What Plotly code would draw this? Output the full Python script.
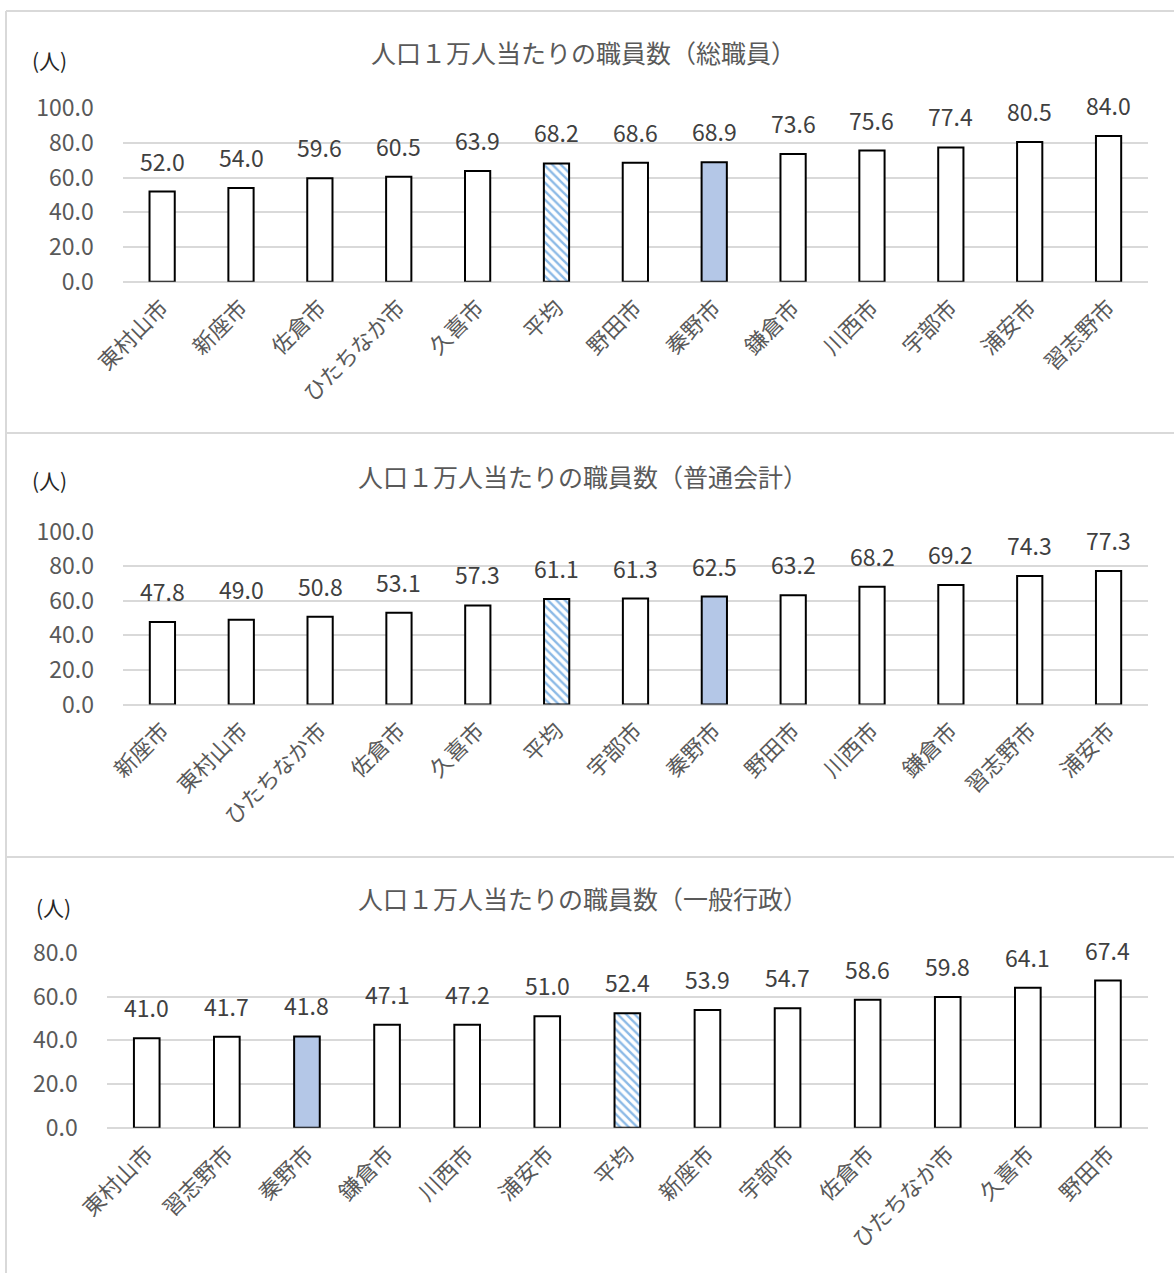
import plotly.graph_objects as go

# ---------------- data ----------------
cats1 = ["東村山市", "新座市", "佐倉市", "ひたちなか市", "久喜市", "平均", "野田市",
         "秦野市", "鎌倉市", "川西市", "宇部市", "浦安市", "習志野市"]
vals1 = [52.0, 54.0, 59.6, 60.5, 63.9, 68.2, 68.6, 68.9, 73.6, 75.6, 77.4, 80.5, 84.0]

cats2 = ["新座市", "東村山市", "ひたちなか市", "佐倉市", "久喜市", "平均", "宇部市",
         "秦野市", "野田市", "川西市", "鎌倉市", "習志野市", "浦安市"]
vals2 = [47.8, 49.0, 50.8, 53.1, 57.3, 61.1, 61.3, 62.5, 63.2, 68.2, 69.2, 74.3, 77.3]

cats3 = ["東村山市", "習志野市", "秦野市", "鎌倉市", "川西市", "浦安市", "平均",
         "新座市", "宇部市", "佐倉市", "ひたちなか市", "久喜市", "野田市"]
vals3 = [41.0, 41.7, 41.8, 47.1, 47.2, 51.0, 52.4, 53.9, 54.7, 58.6, 59.8, 64.1, 67.4]

titles = ["人口１万人当たりの職員数（総職員）",
          "人口１万人当たりの職員数（普通会計）",
          "人口１万人当たりの職員数（一般行政）"]
unit_label = "(人)"
tickvals1 = [0, 20, 40, 60, 80, 100]
tickvals3 = [0, 20, 40, 60, 80]

# ---------------- style ----------------
W, H = 1174, 1273
FONT = "Noto Sans CJK JP"
GRID = "#D9D9D9"
TXT = "#595959"
HIGHLIGHT = "#B4C7E7"
AVG_NAME = "平均"
HOME_NAME = "秦野市"


def px(x):
    return x / W


def py(y):
    return 1 - y / H


panels = [
    dict(cats=cats1, vals=vals1, x0=122.7, x1=1148, ytop=108.3, ybot=281.7, rng=[0, 100],
         ticks=tickvals1, title_y=52, unit_y=60, unit_x=49),
    dict(cats=cats2, vals=vals2, x0=123, x1=1148, ytop=531.7, ybot=704.5, rng=[0, 100],
         ticks=tickvals1, title_y=476, unit_y=480, unit_x=49),
    dict(cats=cats3, vals=vals3, x0=106.7, x1=1148, ytop=953, ybot=1127.7, rng=[0, 80],
         ticks=tickvals3, title_y=898, unit_y=907, unit_x=53),
]

fig = go.Figure()
annotations = []

for i, p in enumerate(panels):
    n = "" if i == 0 else str(i + 1)
    xa, ya = "x" + n, "y" + n
    # ordinary bars (average excluded, drawn separately with a hatch pattern)
    other_vals = [None if c == AVG_NAME else v for c, v in zip(p["cats"], p["vals"])]
    colors = [HIGHLIGHT if c == HOME_NAME else "white" for c in p["cats"]]
    fig.add_trace(go.Bar(
        x=p["cats"], y=other_vals, xaxis=xa, yaxis=ya, width=0.32,
        marker=dict(color=colors, line=dict(color="black", width=2)),
        showlegend=False, hoverinfo="x+y",
    ))
    avg_x = [c for c in p["cats"] if c == AVG_NAME]
    avg_y = [v for c, v in zip(p["cats"], p["vals"]) if c == AVG_NAME]
    fig.add_trace(go.Bar(
        x=avg_x, y=avg_y, xaxis=xa, yaxis=ya, width=0.32,
        marker=dict(color="white", line=dict(color="black", width=2),
                    pattern=dict(shape="\\", fgcolor="#1874CD", bgcolor="white",
                                 fillmode="overlay", size=6, solidity=0.4)),
        showlegend=False, hoverinfo="x+y",
    ))
    fig.layout["xaxis" + n] = dict(
        domain=[px(p["x0"]), px(p["x1"])], anchor=ya, tickangle=-45,
        categoryorder="array", categoryarray=p["cats"],
        tickfont=dict(family=FONT, size=22, color=TXT), showgrid=False,
        showline=False, ticks="", ticklabelstandoff=8, fixedrange=True,
        automargin=False,
    )
    fig.layout["yaxis" + n] = dict(
        domain=[py(p["ybot"]), py(p["ytop"])], anchor=xa, range=p["rng"],
        tickvals=p["ticks"], ticktext=[f"{t:.1f}" for t in p["ticks"]],
        tickfont=dict(family=FONT, size=23, color=TXT), showgrid=True,
        gridcolor=GRID, gridwidth=1.5, zeroline=True, zerolinecolor=GRID,
        zerolinewidth=1.5, showline=False, ticks="", ticklabelstandoff=28,
        fixedrange=True, automargin=False,
    )
    for c, v in zip(p["cats"], p["vals"]):
        annotations.append(dict(x=c, y=v, xref=xa, yref=ya, text=f"{v:.1f}",
                                showarrow=False, yshift=31, yanchor="middle",
                                font=dict(family=FONT, size=23, color="#404040")))
    annotations.append(dict(x=px(583), y=py(p["title_y"]), xref="paper", yref="paper",
                            text=titles[i], showarrow=False, xanchor="center",
                            yanchor="middle",
                            font=dict(family=FONT, size=25, color=TXT)))
    annotations.append(dict(x=px(p["unit_x"]), y=py(p["unit_y"]), xref="paper",
                            yref="paper", text=unit_label, showarrow=False,
                            xanchor="center", yanchor="middle",
                            font=dict(family=FONT, size=21, color="#262626")))

border = dict(color=GRID, width=2)
shapes = [
    dict(type="line", xref="paper", yref="paper", x0=px(6), x1=px(6), y0=py(11), y1=0, line=border),
    dict(type="line", xref="paper", yref="paper", x0=px(6), x1=1, y0=py(11), y1=py(11), line=border),
    dict(type="line", xref="paper", yref="paper", x0=px(6), x1=1, y0=py(433), y1=py(433), line=border),
    dict(type="line", xref="paper", yref="paper", x0=px(6), x1=1, y0=py(857), y1=py(857), line=border),
]

fig.update_layout(
    width=W, height=H, margin=dict(l=0, r=0, t=0, b=0, pad=0, autoexpand=False),
    paper_bgcolor="white", plot_bgcolor="white", barmode="overlay",
    annotations=annotations, shapes=shapes,
    font=dict(family=FONT, color=TXT),
)

fig.write_html("out.html")
